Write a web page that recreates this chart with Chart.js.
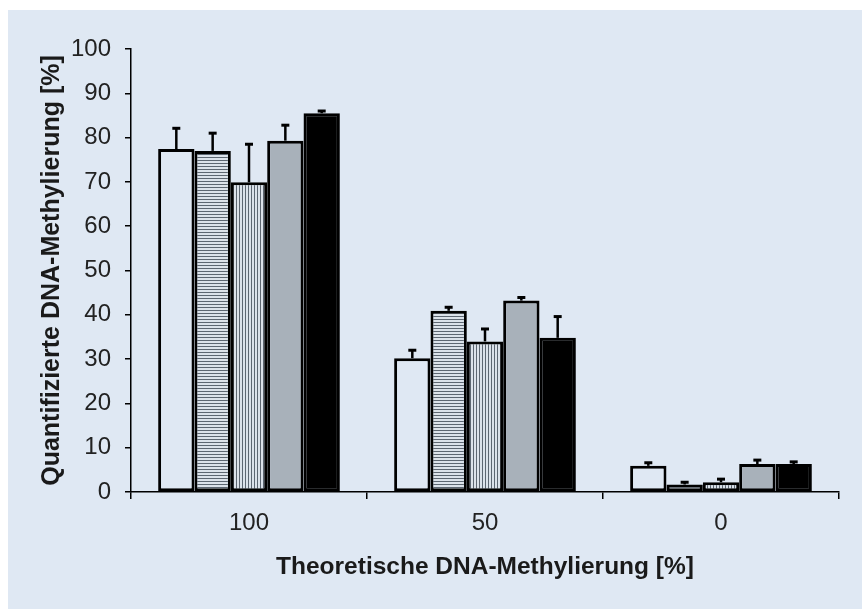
<!DOCTYPE html>
<html>
<head>
<meta charset="utf-8">
<script src="https://cdn.jsdelivr.net/npm/chart.js@4/dist/chart.umd.min.js"></script>
<style>
  html, body { margin: 0; padding: 0; background: #ffffff; }
  #wrap { position: absolute; left: 8px; top: 10px; width: 854px; height: 599px; background: #dfe8f3; }
</style>
</head>
<body>
<div id="wrap"><canvas id="myChart" width="854" height="599"></canvas></div>
<script>
// data
var categories = ["100", "50", "0"];
var seriesNames = ["Serie 1", "Serie 2", "Serie 3", "Serie 4", "Serie 5"];

var white = [77.4, 30.2, 5.9];
var hStripes = [77.0, 40.9, 1.7];
var vStripes = [69.9, 34.0, 2.2];
var grey = [79.3, 43.2, 6.3];
var black = [85.5, 34.8, 6.3];

var whiteErr = [4.7, 1.8, 0.7];
var hStripesErr = [4.0, 0.8, 0.5];
var vStripesErr = [8.6, 2.8, 0.7];
var greyErr = [3.5, 0.7, 0.9];
var blackErr = [0.5, 4.8, 0.5];

var yTicks = [0, 10, 20, 30, 40, 50, 60, 70, 80, 90, 100];

var BG = "#dfe8f3";

function stripes(horizontal) {
    var c = document.createElement("canvas");
    c.width = 3;
    c.height = 3;
    var ctx = c.getContext("2d");
    ctx.fillStyle = "#dbe2ea";
    ctx.fillRect(0, 0, 3, 3);
    ctx.fillStyle = "#5c6671";
    if (horizontal) ctx.fillRect(0, 0, 3, 1);
    else ctx.fillRect(0, 0, 1, 3);
    return ctx.createPattern(c, "repeat");
}

// draws the upward error bars with a short cap
var errorBars = {
    id: "errorBars",
    afterDatasetsDraw: function (chart) {
        var ctx = chart.ctx;
        var y = chart.scales.y;
        ctx.save();
        ctx.strokeStyle = "#000";
        chart.data.datasets.forEach(function (ds, i) {
            var meta = chart.getDatasetMeta(i);
            meta.data.forEach(function (bar, j) {
                var top = y.getPixelForValue(ds.data[j]);
                var end = y.getPixelForValue(ds.data[j] + ds.errors[j]);
                ctx.lineWidth = 2.5;
                ctx.beginPath();
                ctx.moveTo(bar.x, top);
                ctx.lineTo(bar.x, end);
                ctx.stroke();
                ctx.lineWidth = 3;
                ctx.beginPath();
                ctx.moveTo(bar.x - 4, end);
                ctx.lineTo(bar.x + 4, end);
                ctx.stroke();
            });
        });
        ctx.restore();
    }
};

function series(name, values, errs, fill) {
    return {
        label: name,
        data: values,
        errors: errs,
        backgroundColor: fill,
        borderColor: "#000",
        borderWidth: 3,
        borderSkipped: false,
        barPercentage: 1,
        categoryPercentage: 0.77
    };
}

const CHART = document.getElementById("myChart");
let myChart = new Chart(CHART, {
    type: "bar",
    data: {
        labels: categories,
        datasets: [
            series(seriesNames[0], white, whiteErr, BG),
            series(seriesNames[1], hStripes, hStripesErr, stripes(true)),
            series(seriesNames[2], vStripes, vStripesErr, stripes(false)),
            series(seriesNames[3], grey, greyErr, "#a8b1ba"),
            series(seriesNames[4], black, blackErr, "#000000")
        ]
    },
    options: {
        responsive: false,
        animation: false,
        layout: { padding: { top: 39, right: 23, bottom: 0, left: 0 } },
        plugins: { legend: { display: false }, tooltip: { enabled: false } },
        scales: {
            x: {
                afterFit: function (s) { s.height = 117; },
                grid: { offset: true, drawOnChartArea: false, tickLength: 7, color: "#000", lineWidth: 1.5 },
                border: { color: "#000", width: 1.5 },
                ticks: { color: "#222", padding: 10, font: { family: "Liberation Sans", size: 24 } },
                title: {
                    display: true,
                    text: "Theoretische DNA-Methylierung [%]",
                    color: "#1a1a1a",
                    padding: { bottom: 27 },
                    font: { family: "Liberation Sans", size: 24.5, weight: "bold" }
                }
            },
            y: {
                min: 0,
                max: 100,
                afterFit: function (s) { s.width = 123; },
                afterBuildTicks: function (s) { s.ticks = yTicks.map(function (v) { return { value: v }; }); },
                grid: { drawOnChartArea: false, tickLength: 6, color: "#000", lineWidth: 1.5 },
                border: { color: "#000", width: 1.5 },
                ticks: { color: "#222", padding: 14, font: { family: "Liberation Sans", size: 24 } },
                title: {
                    display: true,
                    text: "Quantifizierte DNA-Methylierung [%]",
                    color: "#1a1a1a",
                    padding: { top: 29 },
                    font: { family: "Liberation Sans", size: 25, weight: "bold" }
                }
            }
        }
    },
    plugins: [errorBars]
});
</script>
</body>
</html>
